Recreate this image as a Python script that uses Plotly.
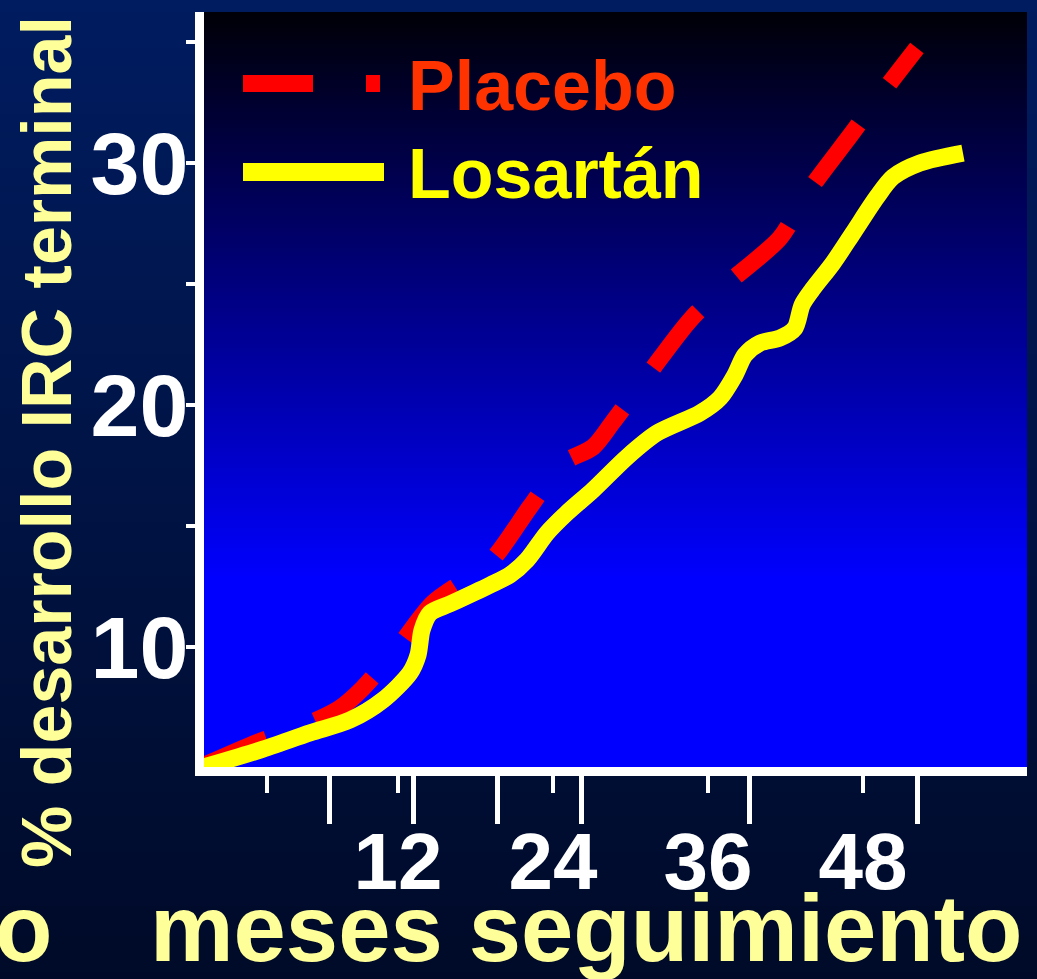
import plotly.graph_objects as go

# ---- data (months of follow-up, % reaching end-stage renal disease) ----
months_placebo = [-3.3, 1.16, 5.19, 7.51, 9.29, 12.15, 14.71, 19.12, 22.22, 24.77,
                  27.10, 28.64, 31.51, 34.61, 37.55, 41.57, 43.74, 46.99, 49.47, 52.17]
pct_placebo = [5.04, 6.07, 6.86, 7.48, 8.31, 10.08, 11.82, 13.51, 15.79, 17.60,
               18.26, 19.30, 21.36, 23.51, 25.04, 26.90, 28.80, 31.12, 32.89, 34.75]

months_losartan = [-3.3, 1.32, 5.19, 8.28, 10.84, 12.93, 13.55, 13.86, 14.48, 16.03,
                   19.12, 20.67, 21.99, 23.54, 25.08, 27.10, 29.73, 32.05, 35.38, 36.93,
                   38.09, 38.86, 40.02, 41.57, 42.73, 43.28, 44.05, 45.68, 47.23, 49.08,
                   50.32, 52.41, 55.74]
pct_losartan = [5.00, 5.74, 6.45, 6.98, 7.81, 8.93, 9.67, 10.70, 11.40, 11.78,
                12.56, 12.98, 13.60, 14.71, 15.54, 16.49, 17.85, 18.84, 19.67, 20.29,
                21.24, 22.07, 22.56, 22.77, 23.18, 24.13, 24.75, 25.87, 27.11, 28.60,
                29.42, 30.00, 30.41]

x_tick_vals = [1.86, 12, 24, 36, 48]
x_tick_text = ["", "12", "24", "36", "48"]
x_minor_vals = [6, 12, 18, 24, 36, 48]
y_tick_vals = [35, 30, 25, 20, 15, 10, 5]
y_tick_text = ["", "30", "", "20", "", "10", ""]

series_names = ["Placebo", "Losartán"]
x_title = "meses seguimiento"
y_title = "% desarrollo IRC terminal"

# ---- page geometry ----
W, H = 1037, 979
L, R, T, B = 204, 1027, 12, 767


def pxx(v):
    return (v - L) / (R - L)


def pxy(v):
    return (B - v) / (B - T)


def lerp(c0, c1, t):
    return "rgb(%d,%d,%d)" % tuple(round(a + (b - a) * t) for a, b in zip(c0, c1))


shapes = []
# slide background: navy fading to near-black
step = 6
for y0 in range(0, H, step):
    t = y0 / H
    shapes.append(dict(type="rect", xref="paper", yref="paper", layer="below",
                       x0=pxx(0), x1=pxx(W), y0=pxy(min(H, y0 + step + 1)), y1=pxy(y0),
                       fillcolor=lerp((0, 28, 96), (0, 10, 40), t), line=dict(width=0)))
# plot background: black at top to pure blue
step = 4
for y0 in range(T, B, step):
    t = (y0 - T) / (B - T)
    shapes.append(dict(type="rect", xref="paper", yref="paper", layer="below",
                       x0=0, x1=1, y0=max(0, pxy(y0 + step + 1)), y1=pxy(y0),
                       fillcolor=lerp((0, 0, 8), (0, 0, 255), min(1.0, t / 0.75)),
                       line=dict(width=0)))

# legend samples
shapes.append(dict(type="line", xref="paper", yref="paper", x0=pxx(243), x1=pxx(380),
                   y0=pxy(83.5), y1=pxy(83.5),
                   line=dict(color="#ff0000", width=17, dash="70px,53px")))
shapes.append(dict(type="line", xref="paper", yref="paper", x0=pxx(243), x1=pxx(384),
                   y0=pxy(172), y1=pxy(172),
                   line=dict(color="#ffff00", width=18)))

bold = dict(family="Liberation Sans, Arial, sans-serif", weight=700)

annotations = [
    dict(text=series_names[0], x=pxx(406), y=pxy(86), xanchor="left", yanchor="middle",
         showarrow=False, xref="paper", yref="paper",
         font=dict(size=70, color="#ff3300", **bold)),
    dict(text=series_names[1], x=pxx(406), y=pxy(174), xanchor="left", yanchor="middle",
         showarrow=False, xref="paper", yref="paper",
         font=dict(size=70, color="#ffff00", **bold)),
    dict(text=y_title, x=pxx(47), y=pxy(442), xanchor="center", yanchor="middle",
         textangle=-90, showarrow=False, xref="paper", yref="paper",
         font=dict(size=70, color="#ffff99", **bold)),
    dict(text=x_title, x=pxx(586), y=pxy(928), xanchor="center", yanchor="middle",
         showarrow=False, xref="paper", yref="paper",
         font=dict(size=94, color="#ffff99", **bold)),
    dict(text="o", x=pxx(54), y=pxy(928), xanchor="right", yanchor="middle",
         showarrow=False, xref="paper", yref="paper",
         font=dict(size=94, color="#ffff99", **bold)),
]

fig = go.Figure()
fig.add_trace(go.Scatter(x=months_placebo, y=pct_placebo, mode="lines", name=series_names[0],
                         line=dict(color="#ff0000", width=17, dash="72px,52px",
                                   shape="spline", smoothing=0.8)))
fig.add_trace(go.Scatter(x=months_losartan, y=pct_losartan, mode="lines", name=series_names[1],
                         line=dict(color="#ffff00", width=17, shape="spline", smoothing=0.8)))
# carrier for the secondary tick row
fig.add_trace(go.Scatter(x=[None], y=[None], xaxis="x2", showlegend=False, hoverinfo="skip"))

x_range = [(L - 243) / 12.917, (R - 243) / 12.917]
y_range = [5 + (768 - B) / 24.2, 5 + (768 - T) / 24.2]

fig.update_layout(
    width=W, height=H, autosize=False,
    margin=dict(l=L, r=W - R, t=T, b=H - B, pad=0),
    paper_bgcolor="#000c28", plot_bgcolor="rgba(0,0,0,0)",
    showlegend=False,
    shapes=shapes, annotations=annotations,
    xaxis=dict(range=x_range, showgrid=False, zeroline=False, automargin=False,
               showline=True, linewidth=9, linecolor="white",
               ticks="outside", ticklen=17, tickwidth=4, tickcolor="white",
               tickvals=x_tick_vals, ticktext=x_tick_text,
               tickfont=dict(size=80, color="white", **bold)),
    xaxis2=dict(range=[(L - 245) / 14, (R - 245) / 14], overlaying="x", anchor="y",
                side="bottom", showgrid=False, zeroline=False, showline=False,
                automargin=False, showticklabels=False,
                ticks="outside", ticklen=56, tickwidth=5, tickcolor="white",
                tickvals=x_minor_vals),
    yaxis=dict(range=y_range, showgrid=False, zeroline=False, automargin=False,
               showline=True, linewidth=9, linecolor="white",
               ticks="outside", ticklen=9, tickwidth=4, tickcolor="white",
               tickvals=y_tick_vals, ticktext=y_tick_text, ticklabelstandoff=-20,
               tickfont=dict(size=88, color="white", **bold)),
)

fig.write_html("out.html")
